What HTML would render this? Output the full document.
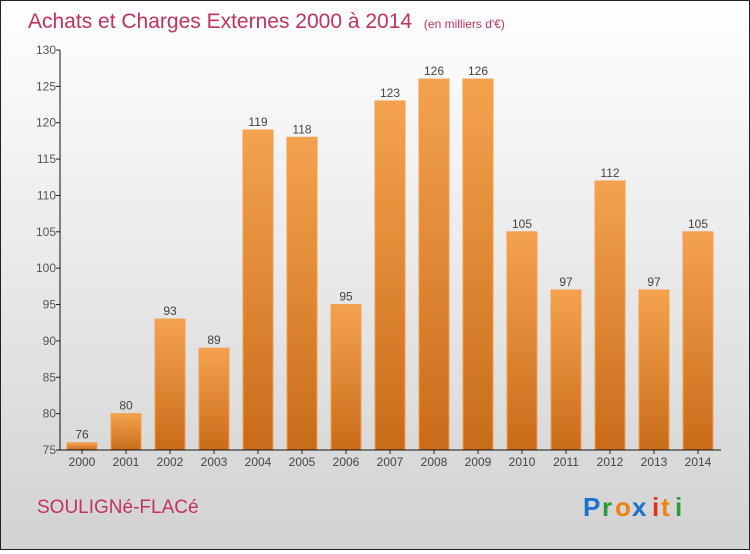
<!DOCTYPE html>
<html><head><meta charset="utf-8"><style>
body{margin:0;width:750px;height:550px;overflow:hidden;font-family:"Liberation Sans",sans-serif}
#c{position:absolute;left:0;top:0;width:748px;height:548px;border:1px solid #222;background:linear-gradient(#ffffff,#d2d2d2)}
</style></head><body>
<div id="c">
<svg width="748" height="548">
<defs><linearGradient id="g" x1="0" y1="0" x2="0" y2="1"><stop offset="0" stop-color="#f5a24e"/><stop offset="1" stop-color="#c96c1a"/></linearGradient></defs>
<text x="27" y="27" font-size="21" fill="#c3325e">Achats et Charges Externes 2000 à 2014 <tspan font-size="12" dx="6">(en milliers d'€)</tspan></text>
<g id="plot"></g>
<text x="36" y="512" font-size="19" fill="#c3325e">SOULIGNé-FLACé</text>
<g font-size="26" font-weight="bold">
<text x="582" y="515" fill="#1a73d0">P</text><text x="601" y="515" fill="#2a9a3a">r</text><text x="614" y="515" fill="#f08010">o</text><text x="631" y="515" fill="#1a73d0">x</text><text x="651" y="515" fill="#e03020">i</text><text x="660" y="515" fill="#f08010">t</text><text x="674" y="515" fill="#2a9a3a">i</text>
</g>
</svg></div>
<script>
const years=["2000","2001","2002","2003","2004","2005","2006","2007","2008","2009","2010","2011","2012","2013","2014"];
const values=[76,80,93,89,119,118,95,123,126,126,105,97,112,97,105];
const yTicks=[75,80,85,90,95,100,105,110,115,120,125,130];
const NS="http://www.w3.org/2000/svg";
const g=document.getElementById('plot');
const x0=59,band=44,bw=30,yMin=75,yMax=130,yTop=49,yBot=449;
const y=v=>yBot-(v-yMin)/(yMax-yMin)*(yBot-yTop);
function mk(t,a){const e=document.createElementNS(NS,t);for(const k in a)e.setAttribute(k,a[k]);g.appendChild(e);return e;}
yTicks.forEach(t=>{
 const l=mk('line',{x1:x0-4,x2:x0,y1:y(t),y2:y(t),stroke:'#222'});
 
 
 const tx=mk('text',{x:x0-4,y:y(t)+4,'text-anchor':'end','font-size':12,fill:'#555'});tx.textContent=t;
 
 
});
values.forEach((v,i)=>{
 const cx=x0+band*i+band/2;
 const r=mk('rect',{x:cx-bw/2,y:y(v),width:bw,height:yBot-y(v),fill:'url(#g)',stroke:'#f0a050','stroke-width':1});
 
 
 const vl=mk('text',{x:cx,y:y(v)-4,'text-anchor':'middle','font-size':12,fill:'#444'});vl.textContent=v;
 
 
 const tk=mk('line',{x1:cx,x2:cx,y1:yBot,y2:yBot+4,stroke:'#222'});
 
 
 const xl=mk('text',{x:cx,y:yBot+16,'text-anchor':'middle','font-size':12,fill:'#444'});xl.textContent=years[i];
 
 
});
const ya=mk('line',{x1:x0,x2:x0,y1:yTop,y2:yBot,stroke:'#111'});


const xa=mk('line',{x1:x0-4,x2:x0+band*15+1,y1:yBot,y2:yBot,stroke:'#111'});


</script>
</body></html>
